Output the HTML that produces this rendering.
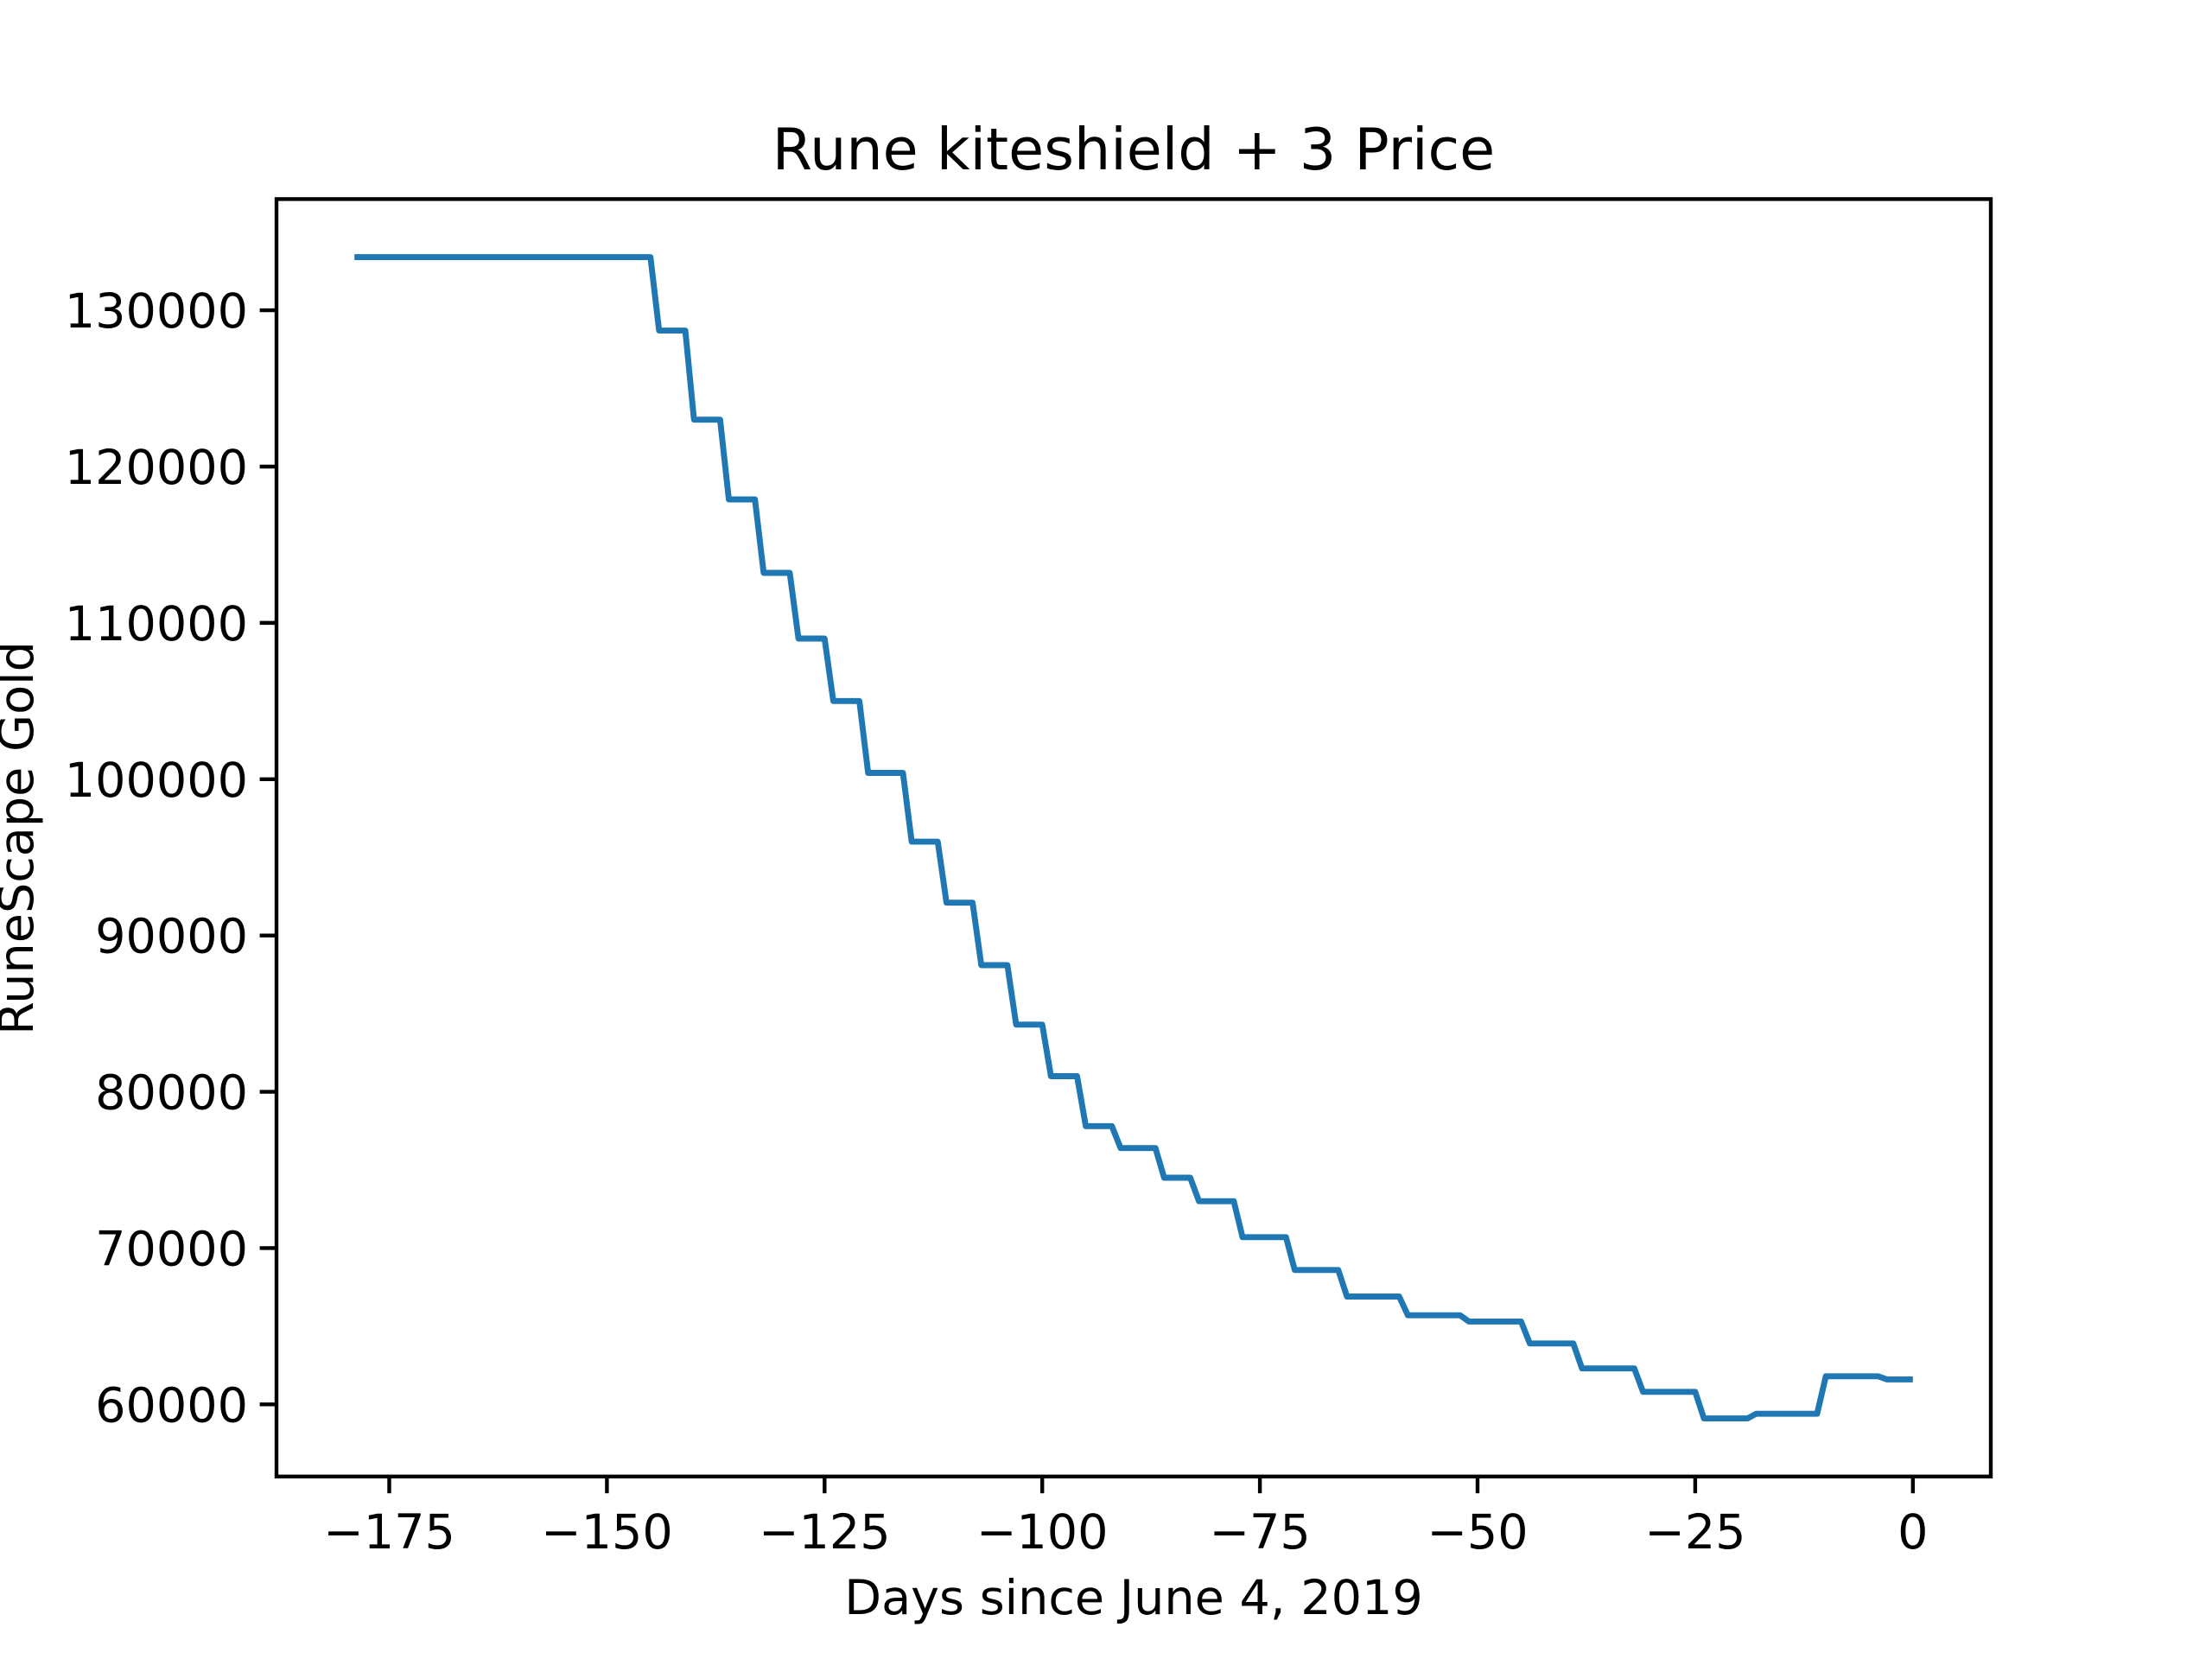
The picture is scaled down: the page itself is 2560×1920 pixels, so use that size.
<!DOCTYPE html>
<html><head><meta charset="utf-8"><style>
html,body{margin:0;padding:0;background:#fff;}
svg{display:block;font-family:"DejaVu Sans","Liberation Sans",sans-serif;}
</style></head><body>
<svg id="chart" width="2560" height="1920" viewBox="0 0 2560 1920" xmlns="http://www.w3.org/2000/svg">
<rect x="0" y="0" width="2560" height="1920" fill="#fff"/>
<text x="1312" y="196" font-size="66.7" text-anchor="middle" fill="#000">Rune kiteshield + 3 Price</text>
<g id="plot"></g>
<rect x="320" y="230.4" width="1984" height="1478.4" fill="none" stroke="#000" stroke-width="4.4"/>
<g id="xticks"></g>
<g id="yticks"></g>
<text x="1312" y="1868" font-size="55.6" text-anchor="middle" fill="#000">Days since June 4, 2019</text>
<text transform="translate(38,970) rotate(-90)" font-size="55.6" text-anchor="middle" fill="#000">RuneScape Gold</text>
</svg>
<script>
const days = [-179,-145,-144,-141,-140,-137,-136,-133,-132,-129,-128,-125,-124,-121,-120,-116,-115,-112,-111,-108,-107,-104,-103,-100,-99,-96,-95,-92,-91,-87,-86,-83,-82,-78,-77,-72,-71,-66,-65,-59,-58,-52,-51,-45,-44,-39,-38,-32,-31,-25,-24,-19,-18,-11,-10,-4,-3,0];
const prices = [133400,133400,128700,128700,123000,123000,117900,117900,113200,113200,109000,109000,105000,105000,100400,100400,96000,96000,92100,92100,88100,88100,84300,84300,81000,81000,77800,77800,76400,76400,74500,74500,73000,73000,70700,70700,68600,68600,66900,66900,65700,65700,65300,65300,63900,63900,62300,62300,60800,60800,59100,59100,59400,59400,61800,61800,61600,61600];
const xTickValues = [-175,-150,-125,-100,-75,-50,-25,0];
const yTickValues = [60000,70000,80000,90000,100000,110000,120000,130000];

const NS = "http://www.w3.org/2000/svg";
const L=320,R=2304,T=230.4,B=1708.8;
const dmin=Math.min(...days),dmax=Math.max(...days);
const pmin=Math.min(...prices),pmax=Math.max(...prices);
const xlo=dmin-(dmax-dmin)*0.05,xhi=dmax+(dmax-dmin)*0.05;
const ylo=pmin-(pmax-pmin)*0.05,yhi=pmax+(pmax-pmin)*0.05;
function xs(v){return L+(v-xlo)/(xhi-xlo)*(R-L);}
function ys(v){return B-(v-ylo)/(yhi-ylo)*(B-T);}
function fmt(v){return v<0?"\u2212"+Math.abs(v):String(v);}

const plot=document.getElementById("plot");
const line=document.createElementNS(NS,"polyline");


line.setAttribute("points",days.map((d,i)=>xs(d).toFixed(1)+","+ys(prices[i]).toFixed(1)).join(" "));
line.setAttribute("fill","none");
line.setAttribute("stroke","#1f77b4");
line.setAttribute("stroke-width","6.9");
line.setAttribute("stroke-linejoin","round");
plot.appendChild(line);

const xg=document.getElementById("xticks");
xTickValues.forEach(v=>{
  const x=xs(v);
  const t=document.createElementNS(NS,"line");
  
  
  t.setAttribute("x1",x);t.setAttribute("x2",x);t.setAttribute("y1",B);t.setAttribute("y2",B+19.4);
  t.setAttribute("stroke","#000");t.setAttribute("stroke-width","4.4");
  xg.appendChild(t);
  const s=document.createElementNS(NS,"text");
  
  
  s.setAttribute("x",x);s.setAttribute("y",1792);
  s.setAttribute("font-size","55.6");s.setAttribute("text-anchor","middle");
  s.textContent=fmt(v);
  xg.appendChild(s);
});
const yg=document.getElementById("yticks");
yTickValues.forEach(v=>{
  const y=ys(v);
  const t=document.createElementNS(NS,"line");
  
  
  t.setAttribute("x1",L-19.4);t.setAttribute("x2",L);t.setAttribute("y1",y);t.setAttribute("y2",y);
  t.setAttribute("stroke","#000");t.setAttribute("stroke-width","4.4");
  yg.appendChild(t);
  const s=document.createElementNS(NS,"text");
  
  
  s.setAttribute("x",L-33);s.setAttribute("y",y+20);
  s.setAttribute("font-size","55.6");s.setAttribute("text-anchor","end");
  s.textContent=fmt(v);
  yg.appendChild(s);
});
</script>
</body></html>
